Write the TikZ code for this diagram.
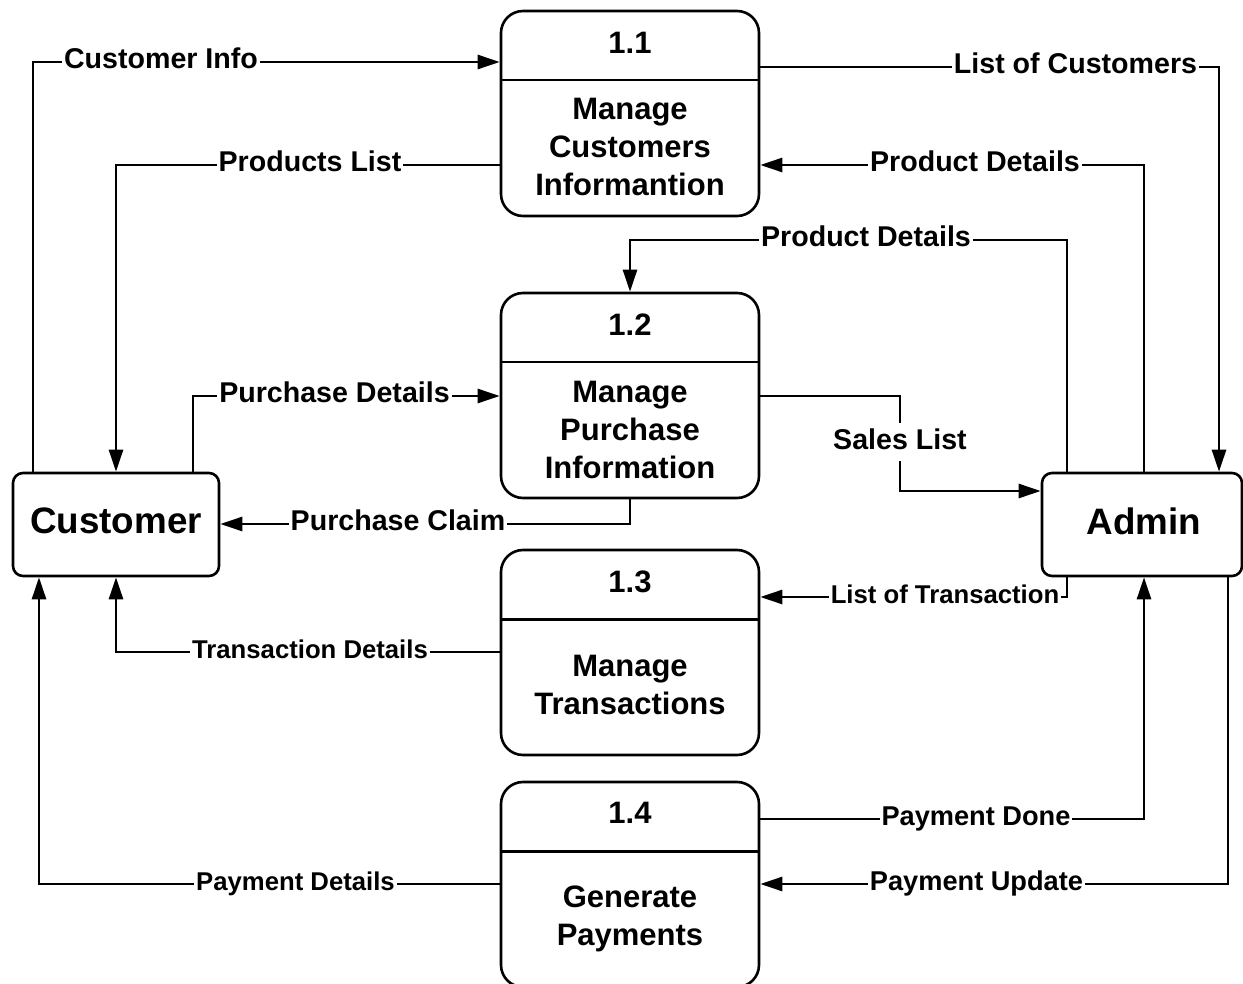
\documentclass[tikz,border=0pt]{standalone}
\usepackage{fontspec}
\setmainfont{Liberation Sans}
\usetikzlibrary{arrows.meta,calc}
\begin{document}
\begin{tikzpicture}[x=0.5pt,y=-0.5pt,
  proc/.style={draw, rounded corners=11pt, line width=1.3pt, minimum width=129pt, minimum height=102.5pt, inner sep=0pt},
  ent/.style={draw, rounded corners=5pt, line width=1.3pt, minimum height=51.5pt, inner sep=0pt},
  enttxt/.style={inner sep=0pt, text depth=0pt, font=\bfseries\fontsize{18.4}{22}\selectfont},
  ptxt/.style={font=\bfseries\fontsize{15.5}{19}\selectfont, align=center, inner sep=0pt, text depth=0pt},
  flow/.style={line width=1.3pt, -{Triangle[length=11pt,width=7pt]}},
  lbl/.style={fill=white, inner xsep=1pt, inner ysep=2pt, text height=0.72em, text depth=0pt, font=\bfseries\fontsize{14.3}{17}\selectfont},
  lbls/.style={lbl, font=\bfseries\fontsize{12.85}{15}\selectfont},
  lblm/.style={lbl, font=\bfseries\fontsize{13.6}{16}\selectfont},
  divl/.style={line width=1.3pt},
]
\useasboundingbox (0,0) rectangle (1243,984);

% process boxes
\node[proc] (p1) at (630,113.5) {};
\node[proc] (p2) at (630,395.5) {};
\node[proc] (p3) at (630,652.5) {};
\node[proc] (p4) at (630,884.5) {};
\draw[divl] ($(p1.north west)+(0,70.5)$) -- ($(p1.north east)+(0,70.5)$);
\draw[divl] ($(p2.north west)+(0,70.5)$) -- ($(p2.north east)+(0,70.5)$);
\draw[divl] ($(p3.north west)+(0,70.5)$) -- ($(p3.north east)+(0,70.5)$);
\draw[divl] ($(p4.north west)+(0,70.5)$) -- ($(p4.north east)+(0,70.5)$);

\node[ptxt] (p1n) at (630,43) {1.1};
\node[ptxt] (p1t) at (630,147) {Manage\\Customers\\Informantion};
\node[ptxt] (p2n) at (630,325) {1.2};
\node[ptxt] (p2t) at (630,430) {Manage\\Purchase\\Information};
\node[ptxt] (p3n) at (630,582) {1.3};
\node[ptxt] (p3t) at (630,685) {Manage\\Transactions};
\node[ptxt] (p4n) at (630,813) {1.4};
\node[ptxt] (p4t) at (630,916) {Generate\\Payments};

% entities
\node[ent, minimum width=103pt] (cust) at (116,524.5) {};
\node[enttxt] (custt) at (116,521) {Customer};
\node[ent, minimum width=100pt] (adm) at (1142,524.5) {};
\node[enttxt] (admt) at (1144,521) {Admin};

% connectors
\coordinate (c1) at (33,62);
\draw[flow] (c1 |- cust.north) -- (c1) -- (c1 -| p1.west);
\node[lbl] (l1) at (161,61) {Customer Info};

\coordinate (c2) at (116,165);
\draw[flow] (c2 -| p1.west) -- (c2) -- (c2 |- cust.north);
\node[lbl] (l2) at (310,164) {Products List};

\coordinate (c3) at (1219,67);
\draw[flow] (c3 -| p1.east) -- (c3) -- (c3 |- adm.north);
\node[lbl] (l3) at (1075.5,66) {List of Customers};

\coordinate (c4) at (1144,165);
\draw[flow] (c4 |- adm.north) -- (c4) -- (c4 -| p1.east);
\node[lbl] (l4) at (975,164) {Product Details};

\coordinate (c5a) at (1067,240);
\coordinate (c5b) at (630,240);
\draw[flow] (c5a |- adm.north) -- (c5a) -- (c5b) -- (p2.north);
\node[lbl] (l5) at (866,239) {Product Details};

\coordinate (c6) at (193,396);
\draw[flow] (c6 |- cust.north) -- (c6) -- (c6 -| p2.west);
\node[lbl] (l6) at (334.5,395) {Purchase Details};

\coordinate (c7a) at (900,396);
\coordinate (c7b) at (900,491);
\draw[flow] (c7a -| p2.east) -- (c7a) -- (c7b) -- (c7b -| adm.west);
\node[lbl, inner ysep=6pt] (l7) at (900,442) {Sales List};

\coordinate (c8) at (630,524);
\draw[flow] (p2.south) -- (c8) -- (c8 -| cust.east);
\node[lbl] (l8) at (398,523) {Purchase Claim};

\coordinate (c9) at (1067,597);
\draw[flow] (c9 |- adm.south) -- (c9) -- (c9 -| p3.east);
\node[lbls] (l9) at (945,596) {List of Transaction};

\coordinate (c10) at (116,652);
\draw[flow] (c10 -| p3.west) -- (c10) -- (c10 |- cust.south);
\node[lbls] (l10) at (310,651) {Transaction Details};

\coordinate (c11) at (39,884);
\draw[flow] (c11 -| p4.west) -- (c11) -- (c11 |- cust.south);
\node[lbls] (l11) at (295.5,883) {Payment Details};

\coordinate (c12) at (1144,819);
\draw[flow] (c12 -| p4.east) -- (c12) -- (c12 |- adm.south);
\node[lblm] (l12) at (976,818) {Payment Done};

\coordinate (c13) at (1228,884);
\draw[flow] (c13 |- adm.south) -- (c13) -- (c13 -| p4.east);
\node[lblm] (l13) at (976.5,883) {Payment Update};
\end{tikzpicture}
\end{document}
